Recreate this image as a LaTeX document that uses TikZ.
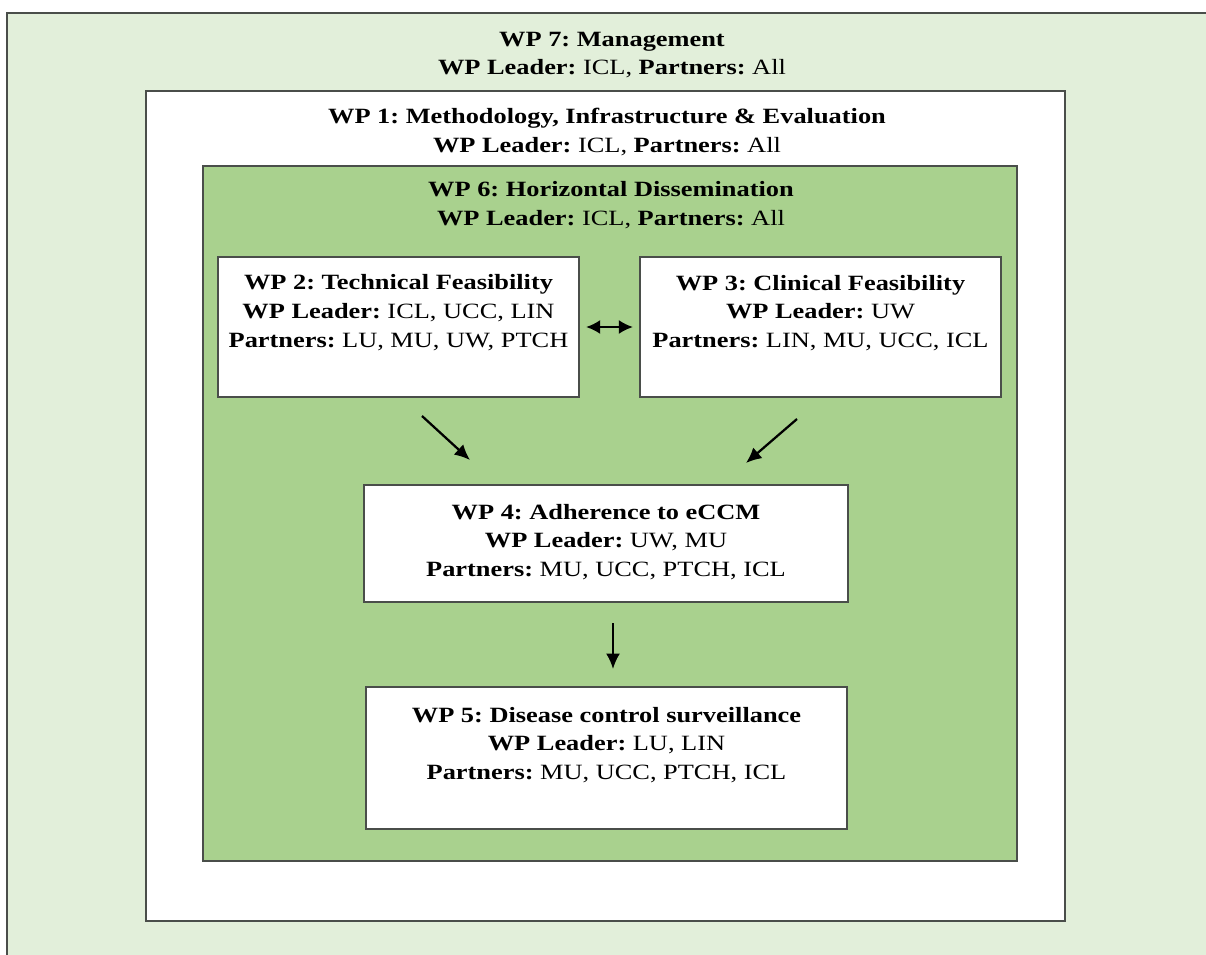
\documentclass[tikz,border=0pt]{standalone}
\usepackage{fontspec}
\setmainfont{Liberation Serif}[FakeStretch=1.21]
\usepackage{xcolor}
\usetikzlibrary{arrows.meta}
\definecolor{WPPale}{HTML}{E2EFDA}
\definecolor{WPGreen}{HTML}{A9D18E}
\definecolor{WPLine}{HTML}{4A4E4A}
\frenchspacing

\tikzset{
  wpbox/.style={draw=WPLine,line width=1.5pt,fill=white,inner sep=0pt,outer sep=0pt},
  wptext/.style={align=center,font=\fontsize{15.5}{20.5}\selectfont,inner sep=0pt},
  flow/.style={line width=1.6pt,-{Latex[length=11pt,width=10pt]}},
}
\newcommand{\wpl}[1]{\textbf{#1}}

\begin{document}
\begin{tikzpicture}[x=0.025cm,y=-0.025cm]
\path[use as bounding box] (0,0) rectangle (1206,955);
\clip (0,0) rectangle (1206,955);
% WP 7 background
\node[wpbox,fill=WPPale,anchor=north west,minimum width=30.5cm,minimum height=24cm] (wp7) at (7,13) {};
\node[wptext] (wp7text) at (612,55) {\wpl{WP 7: Management}\\\wpl{WP Leader:} ICL, \wpl{Partners:} All};
% WP 1 and WP 6 frames
\node[wpbox,minimum width=22.975cm,minimum height=20.75cm] (wp1) at (605.5,506) {};
\node[wptext] (wp1text) at (607,132) {\wpl{WP 1: Methodology, Infrastructure \& Evaluation}\\\wpl{WP Leader:} ICL, \wpl{Partners:} All};
\node[wpbox,fill=WPGreen,minimum width=20.35cm,minimum height=17.375cm] (wp6) at (610,513.5) {};
\node[wptext] (wp6text) at (611,205) {\wpl{WP 6: Horizontal Dissemination}\\\wpl{WP Leader:} ICL, \wpl{Partners:} All};
% work packages
\node[wpbox,minimum width=9.025cm,minimum height=3.5cm] (wp2) at (398.5,327) {};
\node[wptext] (wp2text) at (398.5,312.5) {\wpl{WP 2: Technical Feasibility}\\\wpl{WP Leader:} ICL, UCC, LIN\\\wpl{Partners:} LU, MU, UW, PTCH};
\node[wpbox,minimum width=9.025cm,minimum height=3.5cm] (wp3) at (820.5,327) {};
\node[wptext] (wp3text) at (820.5,313) {\wpl{WP 3: Clinical Feasibility}\\\wpl{WP Leader:} UW\\\wpl{Partners:} LIN, MU, UCC, ICL};
\node[wpbox,minimum width=12.1cm,minimum height=2.925cm] (wp4) at (606,543.5) {};
\node[wptext] (wp4text) at (606,542) {\wpl{WP 4: Adherence to eCCM}\\\wpl{WP Leader:} UW, MU\\\wpl{Partners:} MU, UCC, PTCH, ICL};
\node[wpbox,minimum width=12.025cm,minimum height=3.55cm] (wp5) at (606.5,758) {};
\node[wptext] (wp5text) at (606.5,745) {\wpl{WP 5: Disease control surveillance}\\\wpl{WP Leader:} LU, LIN\\\wpl{Partners:} MU, UCC, PTCH, ICL};
% arrows
\coordinate (a2s) at (422,416);
\coordinate (a2e) at (470,460);
\coordinate (a3s) at (797,419);
\coordinate (a3e) at (746,463);
\coordinate (a4s) at (613,623);
\coordinate (a4e) at (613,669);
\draw[flow,{Latex[length=10pt,width=10pt]}-{Latex[length=10pt,width=10pt]},shorten <=5pt,shorten >=5pt] (wp2) -- (wp3);
\draw[flow] (a2s) -- (a2e);
\draw[flow] (a3s) -- (a3e);
\draw[flow] (a4s) -- (a4e);
\end{tikzpicture}
\end{document}
